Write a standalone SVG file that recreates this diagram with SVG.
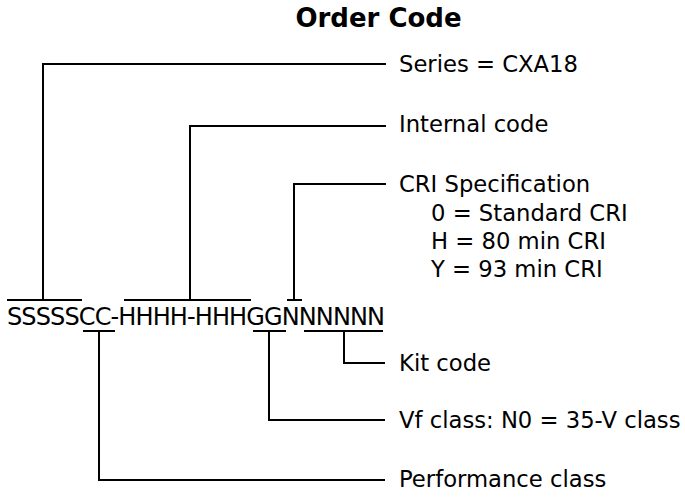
<svg xmlns="http://www.w3.org/2000/svg" width="685" height="498" viewBox="0 0 685 498">
<style>
text{font-family:"DejaVu Sans","Verdana",sans-serif;fill:#000}
.lbl{font-size:22.7px}
.code{font-size:24px}
.title{font-size:26px;font-weight:bold}
.ln{fill:none;stroke:#000;stroke-width:2;stroke-linecap:butt}
</style>
<rect width="685" height="498" fill="#fff"/>
<g id="title"><text class="title" x="378.5" y="27" text-anchor="middle">Order Code</text></g>
<g id="code"><text class="code" x="7" y="325" textLength="378" lengthAdjust="spacing">SSSSSCC-HHHH-HHHGGNNNNNN</text></g>
<g id="connectors">
<path class="ln" d="M7,300H82M43,300V64H386"/>
<path class="ln" d="M124,300H251M190,300V126H386"/>
<path class="ln" d="M287,300H302M294,300V184H386"/>
<path class="ln" d="M304,331H383M344,331V363H385"/>
<path class="ln" d="M253,331H286M269,331V420H385"/>
<path class="ln" d="M83,331H115M99,331V480H385"/>
</g>
<g id="series"><text class="lbl" x="399" y="72">Series = CXA18</text></g>
<g id="internal"><text class="lbl" x="399" y="132">Internal code</text></g>
<g id="cri">
<text class="lbl" x="399" y="192">CRI Specification</text>
<text class="lbl" x="431" y="221">0 = Standard CRI</text>
<text class="lbl" x="431" y="249">H = 80 min CRI</text>
<text class="lbl" x="431" y="277">Y = 93 min CRI</text>
</g>
<g id="kit"><text class="lbl" x="399" y="371">Kit code</text></g>
<g id="vf"><text class="lbl" x="399" y="428">Vf class: N0 = 35-V class</text></g>
<g id="perf"><text class="lbl" x="399" y="487">Performance class</text></g>
</svg>
